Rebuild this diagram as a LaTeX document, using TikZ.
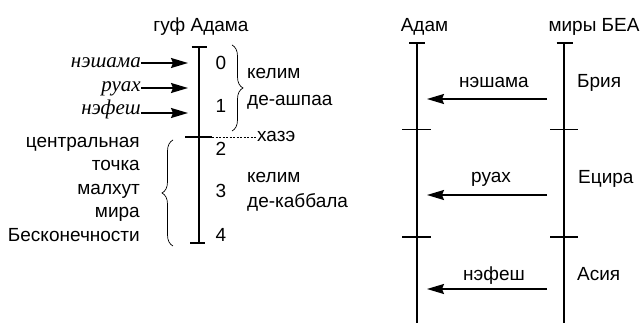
\documentclass[tikz,border=0pt]{standalone}
\usepackage{fontspec}
\setmainfont{Liberation Serif}
\setsansfont{Liberation Sans}
\usetikzlibrary{arrows.meta,decorations.pathreplacing}
\begin{document}
\begin{tikzpicture}[x=1pt,y=-1pt,
  lbl/.style={font=\sffamily\fontsize{19}{23}\selectfont,inner sep=0pt},
  itl/.style={font=\rmfamily\itshape\fontsize{21}{25}\selectfont,inner sep=0pt},
  thickaxis/.style={line width=2.6pt},
  thinaxis/.style={line width=1.8pt},
  capline/.style={line width=2.8pt},
  tickline/.style={line width=1.6pt},
  arr/.style={line width=1.6pt,-{Stealth[length=17pt,width=10pt,inset=2pt]}},
  bracestyle/.style={line width=0.7pt,decorate},
  dashline/.style={line width=0.7pt,dash pattern=on 2pt off 1.5pt}]
\useasboundingbox (0,0) rectangle (641,323);

% ---------- left diagram ----------
\node[lbl,anchor=base] (gufadam) at (201,32) {гуф Адама};
\coordinate (ltop) at (199,47);
\coordinate (lbot) at (199,243);
\coordinate (lhz) at (199,137);
\draw[thickaxis] (ltop) -- (lbot);
\draw[capline] (191.5,47) -- (206.5,47);
\draw[capline] (190,243) -- (205,243);
\draw[tickline] (185,137) -- (212,137);
\coordinate (dashstart) at (212,137);

\node[itl,anchor=base east] (inesh) at (141,68) {нэшама};
\node[itl,anchor=base east] (iruah) at (141,92) {руах};
\node[itl,anchor=base east] (inef) at (141,115) {нэфеш};
\coordinate (a1s) at (141,63); \coordinate (a1e) at (188,63);
\coordinate (a2s) at (141,88); \coordinate (a2e) at (188,88);
\coordinate (a3s) at (141,113); \coordinate (a3e) at (188,113);
\draw[arr] (a1s) -- (a1e);
\draw[arr] (a2s) -- (a2e);
\draw[arr] (a3s) -- (a3e);

\node[lbl,anchor=base] (n0) at (221,70) {0};
\node[lbl,anchor=base] (n1) at (221,113) {1};
\node[lbl,anchor=base] (n2) at (221,156) {2};
\node[lbl,anchor=base] (n3) at (221,198) {3};
\node[lbl,anchor=base] (n4) at (221,242) {4};

\draw[bracestyle,decoration={brace,amplitude=11pt}] (232,45) -- (232,131);
\node[lbl,anchor=base west] (kel1) at (247,79) {келим};
\node[lbl,anchor=base west] (kel1b) at (247,106) {де-ашпаа};

\node[lbl,anchor=base west] (hazeh) at (257,142) {хазэ};
\draw[dashline] (dashstart) -- (hazeh.west |- dashstart);

\node[lbl,anchor=base east] (t1) at (140,147.5) {центральная};
\node[lbl,anchor=base east] (t2) at (140,171) {точка};
\node[lbl,anchor=base east] (t3) at (140,194.5) {малхут};
\node[lbl,anchor=base east] (t4) at (140,218) {мира};
\node[lbl,anchor=base east] (t5) at (140,241.5) {Бесконечности};
\draw[bracestyle,decoration={brace,amplitude=11pt,mirror}] (173,140) -- (173,246);

\node[lbl,anchor=base west] (kel2) at (247,183) {келим};
\node[lbl,anchor=base west] (kel2b) at (247,208) {де-каббала};

% ---------- right diagram ----------
\node[lbl,anchor=base] (adam) at (424.5,32) {Адам};
\node[lbl,anchor=base] (bea) at (594,32) {миры БЕА};
\coordinate (atop) at (417,43);
\coordinate (abot) at (417,323);
\coordinate (btop) at (564,43);
\coordinate (bbot) at (564,323);
\draw[thinaxis] (atop) -- (abot);
\draw[thinaxis] (btop) -- (bbot);
\draw[capline] (409,43) -- (425,43);
\draw[capline] (556.5,43) -- (572.5,43);
\foreach \yy in {129.5,237}{
  \draw[tickline] (402,\yy) -- (431,\yy);
  \draw[tickline] (550,\yy) -- (578,\yy);
}
\coordinate (r1s) at (547,99);  \coordinate (r1e) at (427,99);
\coordinate (r2s) at (547,195); \coordinate (r2e) at (427,195);
\coordinate (r3s) at (547,289); \coordinate (r3e) at (427,289);
\draw[arr] (r1s) -- (r1e);
\draw[arr] (r2s) -- (r2e);
\draw[arr] (r3s) -- (r3e);
\node[lbl,anchor=base] (rnesh) at (494,88) {нэшама};
\node[lbl,anchor=base] (rruah) at (491,183) {руах};
\node[lbl,anchor=base] (rnef) at (494,281) {нэфеш};
\node[lbl,anchor=base west] (bria) at (577,88) {Брия};
\node[lbl,anchor=base west] (yez) at (578,184) {Ецира};
\node[lbl,anchor=base west] (asia) at (577,281) {Асия};
\end{tikzpicture}
\end{document}
